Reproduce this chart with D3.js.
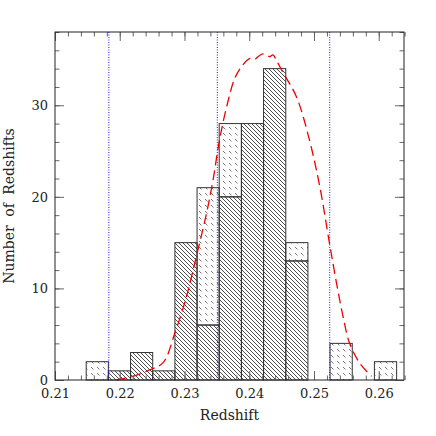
<!DOCTYPE html>
<html>
<head>
<meta charset="utf-8">
<script src="https://cdn.jsdelivr.net/npm/d3@7"></script>
<style>
  body { margin: 0; background: #fff; }
  svg { display: block; }
  .tick text { font-family: "DejaVu Serif", serif; font-size: 13px; fill: #222; }
</style>
</head>
<body>
<div id="chart"></div>
<script>
// histogram bins (redshift bin edges)
const binEdges = [0.21482, 0.21824, 0.22167, 0.22509, 0.22852, 0.23194, 0.23536, 0.23879,
  0.24221, 0.24564, 0.24906, 0.25248, 0.25591, 0.25933, 0.26276];
// counts in each bin, dense hatch (lower) and dashed hatch (stacked on top)
const denseCounts = [0, 1, 3, 1, 15, 6, 20, 28, 34, 13, 0, 0, 0, 0];
const sparseCounts = [2, 0, 0, 0, 0, 15, 8, 0, 0, 2, 0, 4, 0, 2];

// red dashed smooth curve
const curveZ = [0.2195, 0.2220, 0.2246, 0.2267, 0.2285, 0.2303, 0.2318, 0.2334, 0.2344, 0.2354,
  0.2365, 0.23774, 0.23878, 0.24006, 0.24083, 0.24134, 0.24212, 0.24264, 0.24315, 0.24366,
  0.24419, 0.2452, 0.2473, 0.2493, 0.2509, 0.2524, 0.2535, 0.2545, 0.2555, 0.2571, 0.2589];
const curveN = [0.0, 0.4, 1.1, 1.9, 5.1, 9.1, 13.4, 18.2, 21.8, 26.2,
  29.8, 32.9, 34.2, 35.1, 35.0, 35.3, 35.6, 35.5, 35.3, 35.5,
  34.9, 33.6, 30.9, 26.2, 21.1, 14.9, 10.5, 6.9, 4.0, 1.8, 0.4];

// blue dotted vertical lines
const markerZ = [0.21832, 0.23507, 0.25243];

const xMajor = [0.21, 0.22, 0.23, 0.24, 0.25, 0.26];
const yMajor = [0, 10, 20, 30];

const W = 436, H = 436;
const frame = { left: 55, right: 404, top: 32, bottom: 380 };

const svg = d3.select('#chart').append('svg')
  .attr('width', W).attr('height', H);

const x = d3.scaleLinear().domain([0.21, 0.2639]).range([frame.left, frame.right]);
const y = d3.scaleLinear().domain([0, 38]).range([frame.bottom, frame.top]);

// hatch patterns
const defs = svg.append('defs');
defs.append('pattern')
  .attr('id', 'dense').attr('patternUnits', 'userSpaceOnUse')
  .attr('width', 4).attr('height', 4)
  .append('path')
  .attr('d', 'M-1,-1 L5,5 M-1,3 L1,5 M3,-1 L5,1')
  .attr('stroke', '#111').attr('stroke-width', 0.75);
const sp = defs.append('pattern')
  .attr('id', 'sparse').attr('patternUnits', 'userSpaceOnUse')
  .attr('width', 6).attr('height', 6);
sp.append('path')
  .attr('d', 'M1,1 L3.5,3.5')
  .attr('stroke', '#666').attr('stroke-width', 0.9);

const bins = denseCounts.map((d, i) => ({
  x0: binEdges[i], x1: binEdges[i + 1], dense: d, sparse: sparseCounts[i]
}));

const g = svg.append('g');

g.selectAll('rect.dense')
  .data(bins.filter(b => b.dense > 0))
  .enter().append('rect')
  .attr('class', 'dense')
  .attr('x', b => x(b.x0))
  .attr('width', b => x(b.x1) - x(b.x0))
  .attr('y', b => y(b.dense))
  .attr('height', b => y(0) - y(b.dense))
  .attr('fill', 'url(#dense)')
  .attr('stroke', '#333').attr('stroke-width', 1);

g.selectAll('rect.sparse')
  .data(bins.filter(b => b.sparse > 0))
  .enter().append('rect')
  .attr('class', 'sparse')
  .attr('x', b => x(b.x0))
  .attr('width', b => x(b.x1) - x(b.x0))
  .attr('y', b => y(b.dense + b.sparse))
  .attr('height', b => y(b.dense) - y(b.dense + b.sparse))
  .attr('fill', 'url(#sparse)')
  .attr('stroke', '#333').attr('stroke-width', 1);

// dotted blue markers
g.selectAll('line.marker')
  .data(markerZ)
  .enter().append('line')
  .attr('x1', d => x(d)).attr('x2', d => x(d))
  .attr('y1', frame.top).attr('y2', frame.bottom)
  .attr('stroke', '#1a1aff').attr('stroke-width', 1)
  .attr('stroke-dasharray', '1,1.5');

// red dashed curve
const line = d3.line()
  .x((d, i) => x(curveZ[i]))
  .y(d => y(d))
  .curve(d3.curveCatmullRom);
g.append('path')
  .datum(curveN)
  .attr('d', line)
  .attr('fill', 'none')
  .attr('stroke', '#ee0000').attr('stroke-width', 1.3)
  .attr('stroke-dasharray', '10,5');

// axes: major and minor ticks on all four sides, pointing inward
const xMinor = d3.range(0.21, 0.2641, 0.002);
const yMinor = d3.range(0, 38.1, 2);
const tickCol = '#666';

function styleAxis(sel) {
  sel.select('.domain').remove();
  sel.selectAll('.tick line').attr('stroke', tickCol);
}

svg.append('g').attr('transform', `translate(0,${frame.bottom})`)
  .call(d3.axisBottom(x).tickValues(xMinor).tickSize(-4.5).tickFormat(''))
  .call(styleAxis);
svg.append('g').attr('transform', `translate(0,${frame.bottom})`)
  .call(d3.axisBottom(x).tickValues(xMajor).tickSize(-9).tickPadding(9).tickFormat(d3.format('.2f')))
  .call(styleAxis);
svg.append('g').attr('transform', `translate(0,${frame.top})`)
  .call(d3.axisTop(x).tickValues(xMinor).tickSize(-4.5).tickFormat(''))
  .call(styleAxis);
svg.append('g').attr('transform', `translate(0,${frame.top})`)
  .call(d3.axisTop(x).tickValues(xMajor).tickSize(-9).tickFormat(''))
  .call(styleAxis);

svg.append('g').attr('transform', `translate(${frame.left},0)`)
  .call(d3.axisLeft(y).tickValues(yMinor).tickSize(-4.5).tickFormat(''))
  .call(styleAxis);
svg.append('g').attr('transform', `translate(${frame.left},0)`)
  .call(d3.axisLeft(y).tickValues(yMajor).tickSize(-9).tickPadding(7).tickFormat(d3.format('d')))
  .call(styleAxis);
svg.append('g').attr('transform', `translate(${frame.right},0)`)
  .call(d3.axisRight(y).tickValues(yMinor).tickSize(-4.5).tickFormat(''))
  .call(styleAxis);
svg.append('g').attr('transform', `translate(${frame.right},0)`)
  .call(d3.axisRight(y).tickValues(yMajor).tickSize(-9).tickFormat(''))
  .call(styleAxis);

// frame
svg.append('rect')
  .attr('x', frame.left).attr('y', frame.top)
  .attr('width', frame.right - frame.left).attr('height', frame.bottom - frame.top)
  .attr('fill', 'none').attr('stroke', '#222').attr('stroke-width', 1);

// axis labels
svg.append('text')
  .attr('x', (frame.left + frame.right) / 2).attr('y', 420)
  .attr('text-anchor', 'middle')
  .style('font-family', '"DejaVu Serif", serif').style('font-size', '14px').attr('fill', '#222')
  .text('Redshift');
svg.append('text')
  .attr('transform', `translate(14,${(frame.top + frame.bottom) / 2}) rotate(-90)`)
  .attr('text-anchor', 'middle')
  .style('font-family', '"DejaVu Serif", serif').style('font-size', '14px')
  .style('word-spacing', '4px').attr('fill', '#222')
  .text('Number of Redshifts');
</script>
</body>
</html>
